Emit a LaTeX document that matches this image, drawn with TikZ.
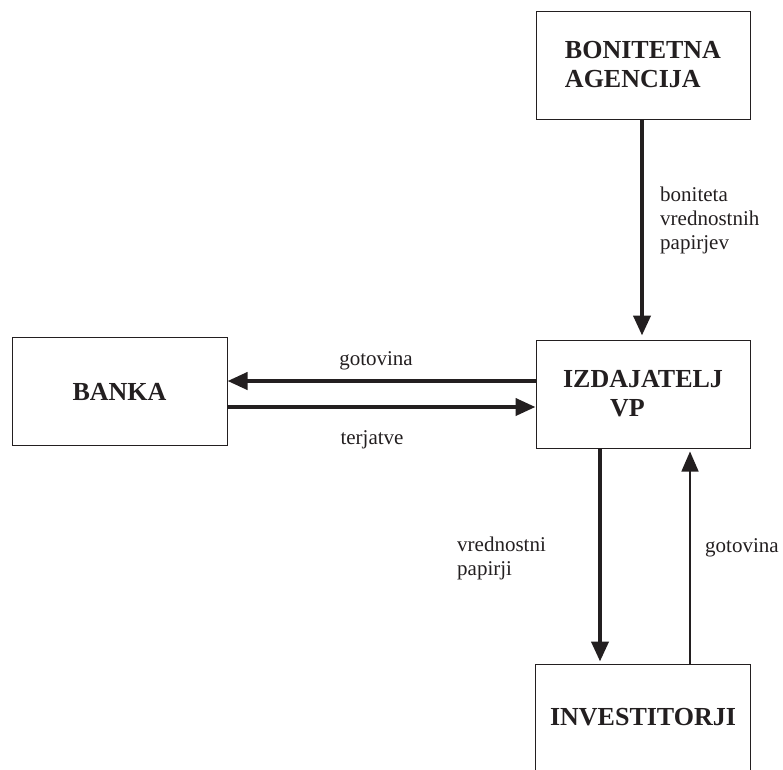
\documentclass[tikz,border=0pt]{standalone}
\usepackage{fontspec}
\setmainfont{Liberation Serif}
\usetikzlibrary{positioning,arrows.meta}
\definecolor{ink}{HTML}{231F20}
\tikzset{
myblok/.style={
  draw=ink,
  line width=1pt,
  minimum width=214pt,
  minimum height=#1,
  align=center,
  text=ink,
  font=\fontsize{26}{29}\selectfont\bfseries,
  inner sep=0pt
  },
myblok/.default=108pt,
mylbl/.style={
  text=ink,
  align=left,
  font=\fontsize{21}{24}\selectfont,
  inner sep=0pt
  },
debela/.style={ink,line width=4pt,->},
tanka/.style={ink,line width=1.5pt,->}
}

\begin{document}
\begin{tikzpicture}[x=1pt,y=-1pt,>={Triangle[length=20pt,width=17pt]}]
            \useasboundingbox (0,0) rectangle (783,769);
            % bloki
            \node[myblok,align=left] (agencija) at (643,65) {BONITETNA\\AGENCIJA};
            \node[myblok,align=left] (izdajatelj) at (643,394) {IZDAJATELJ\\\hspace*{47pt}VP};
            \node[myblok,minimum width=215pt] (banka) at (119.5,391.5) {BANKA};
            \node[myblok=104pt,draw=none] (investitorji) at (643,717) {INVESTITORJI};
            \draw[ink,line width=1pt] (investitorji.south west) -- (investitorji.north west)
                -- (investitorji.north east) -- (investitorji.south east);
            % puscice
            \draw[debela,shorten >=4pt] ([xshift=-1pt]agencija.south) -- ([xshift=-1pt]izdajatelj.north);
            \draw[debela] ([yshift=13pt]izdajatelj.west) -- ([yshift=10.5pt]banka.east);
            \draw[debela] ([yshift=-15.5pt]banka.east) -- ([yshift=-13pt]izdajatelj.west);
            \draw[debela,shorten >=3pt] ([xshift=-43pt]izdajatelj.south) -- ([xshift=-43pt]investitorji.north);
            \draw[tanka,shorten >=3pt] ([xshift=47pt]investitorji.north) -- ([xshift=47pt]izdajatelj.south);
            % oznake
            \node[mylbl,anchor=base west] (bonlbl) at (660,249) {boniteta\\vrednostnih\\papirjev};
            \node[mylbl,anchor=base] (gotlbl) at (376,365) {gotovina};
            \node[mylbl,anchor=base] (terlbl) at (372,444) {terjatve};
            \node[mylbl,anchor=base west] (vplbl) at (457,575) {vrednostni\\papirji};
            \node[mylbl,anchor=base west] (got2lbl) at (705,552) {gotovina};
        \end{tikzpicture}
\end{document}
